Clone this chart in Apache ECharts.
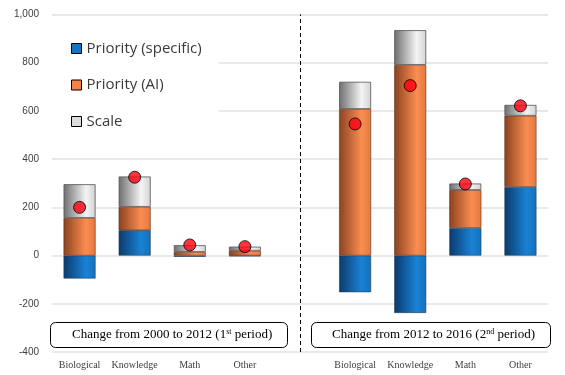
<!DOCTYPE html>
<html>
<head>
<meta charset="utf-8">
<script src="https://cdn.jsdelivr.net/npm/echarts@6/dist/echarts.min.js"></script>
<style>html,body{margin:0;padding:0;background:#fff}#c{width:565px;height:375px}</style>
</head>
<body>
<div id="c"></div>
<script>
const categories = ['Biological','Knowledge','Math','Other','','Biological','Knowledge','Math','Other'];
const prioritySpecific = [-95, 105, -5, -3, null, -152, -238, 115, 285];
const priorityAI = [156, 97, 15, 20, null, 608, 791, 157, 295];
const scale = [140, 126, 28, 17, null, 113, 144, 27, 45];
const total = [200, 325, 44, 37, null, 546, 705, 297, 621];
const yTicks = {min: -400, max: 1000, interval: 200};

function grad(c0, c1, c2) {
  return new echarts.graphic.LinearGradient(0, 0, 1, 0, [
    {offset: 0, color: c0}, {offset: 0.7, color: c1}, {offset: 1, color: c2}
  ]);
}
const blueG = grad('#0a3a6c', '#1a82d4', '#1470bb');
const orangeG = grad('#8a4220', '#fb8d50', '#e3773f');
const grayG = grad('#6e6e6e', '#f4f4f4', '#d2d2d2');

const chart = echarts.init(document.getElementById('c'), null, {renderer: 'canvas'});
const barCommon = {type: 'bar', stack: 'a', barWidth: 32};
chart.setOption({
  animation: false,
  grid: {left: 52, right: 17, top: 14.5, bottom: 23, containLabel: false},
  legend: {
    orient: 'vertical', left: 51, top: 31,
    padding: [10, 17, 10, 20], itemGap: 21.5,
    backgroundColor: '#fff',
    itemWidth: 10, itemHeight: 10, icon: 'rect',
    textStyle: {fontFamily: 'Open Sans, Liberation Sans, sans-serif', fontSize: 15, color: '#3a3a3a', padding: [0, 0, 0, 0]},
    data: [
      {name: 'Priority (specific)', itemStyle: {color: '#1474c4', borderColor: '#000', borderWidth: 1}},
      {name: 'Priority (AI)', itemStyle: {color: '#f28448', borderColor: '#000', borderWidth: 1}},
      {name: 'Scale', itemStyle: {color: '#dcdcdc', borderColor: '#000', borderWidth: 1}}
    ]
  },
  xAxis: {
    type: 'category', data: categories,
    axisLine: {show: false}, axisTick: {show: false},
    axisLabel: {fontFamily: 'Liberation Serif, serif', fontSize: 10, color: '#404040', margin: 8, interval: 0}
  },
  yAxis: {
    type: 'value', min: yTicks.min, max: yTicks.max, interval: yTicks.interval,
    axisLine: {show: false}, axisTick: {show: false},
    axisLabel: {fontFamily: 'Liberation Sans, Arial, sans-serif', fontSize: 10, color: '#404040', margin: 13,
      formatter: v => v.toLocaleString('en-US')},
    splitLine: {lineStyle: {color: '#e2e2e2', width: 1.5}}
  },
  series: [
    Object.assign({name: 'Priority (specific)', data: prioritySpecific,
      itemStyle: {color: blueG, borderColor: '#2a3f55', borderWidth: 0.6},
      markLine: {
        silent: true, symbol: 'none', label: {show: false},
        lineStyle: {color: '#000', type: [4, 3], width: 1},
        data: [{xAxis: 4}]
      }}, barCommon),
    Object.assign({name: 'Priority (AI)', data: priorityAI,
      itemStyle: {color: orangeG, borderColor: '#5a3420', borderWidth: 0.6}}, barCommon),
    Object.assign({name: 'Scale', data: scale,
      itemStyle: {color: grayG, borderColor: '#555', borderWidth: 0.8}}, barCommon),
    {name: 'Total', type: 'scatter', data: total, symbolSize: 12, z: 10,
      itemStyle: {color: '#ff0010', borderColor: '#000', borderWidth: 1}}
  ],
  graphic: [
    {type: 'rect', left: 50, top: 322, shape: {width: 237, height: 25, r: 5},
      style: {fill: '#fff', stroke: '#000', lineWidth: 1}},
    {type: 'text', left: 72, top: 328,
      style: {rich: {a: {fontFamily: 'Liberation Serif, serif', fontSize: 13, fill: '#000'},
        s: {fontFamily: 'Liberation Serif, serif', fontSize: 8, fill: '#000', verticalAlign: 'top', padding: [0, 0, 6, 0]}},
        text: '{a|Change from 2000 to 2012 (1}{s|st}{a| period)}'}},
    {type: 'rect', left: 311, top: 322, shape: {width: 239, height: 25, r: 5},
      style: {fill: '#fff', stroke: '#000', lineWidth: 1}},
    {type: 'text', left: 332, top: 328,
      style: {rich: {a: {fontFamily: 'Liberation Serif, serif', fontSize: 13, fill: '#000'},
        s: {fontFamily: 'Liberation Serif, serif', fontSize: 8, fill: '#000', verticalAlign: 'top', padding: [0, 0, 6, 0]}},
        text: '{a|Change from 2012 to 2016 (2}{s|nd}{a| period)}'}}
  ]
});
</script>
</body>
</html>
